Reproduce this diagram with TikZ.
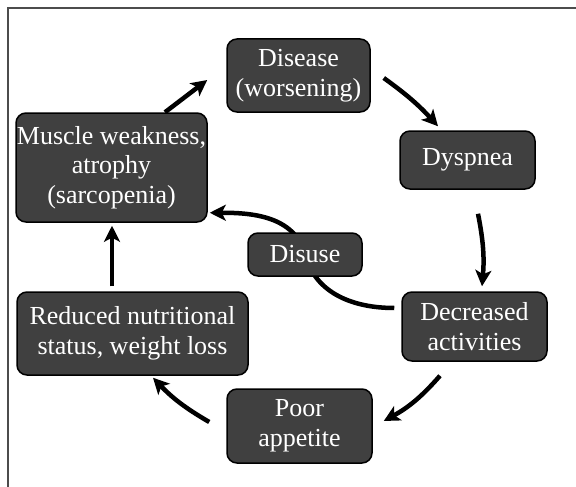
\documentclass[tikz,border=0pt]{standalone}
\usepackage{fontspec}
\setmainfont{Liberation Serif}
\usetikzlibrary{arrows.meta,calc,backgrounds}
\definecolor{boxfill}{HTML}{404040}
\tikzset{
  box/.style={draw=black, line width=1.5pt, fill=boxfill, rounded corners=10pt,
    text=white, align=center, inner sep=0pt,
    font=\fontsize{26}{29.5}\selectfont},
  arr/.style={line width=4.5pt, -{Stealth[length=16pt,width=16pt,inset=4pt]}},
  frameline/.style={line width=2pt, draw=black!70}
}
\begin{document}
\begin{tikzpicture}[x=1pt,y=-1pt]
\useasboundingbox (0,0) rectangle (576,487);
\draw[frameline] (8,487) -- (8,8) -- (576,8);
\node[box, minimum width=143pt, minimum height=73pt] (disease) at (298.5,75.5) {Disease\\(worsening)};
\node[box, minimum width=135pt, minimum height=58pt] (dyspnea) at (467.5,160) {Dyspnea};
\node[box, minimum width=191pt, minimum height=109pt] (muscle) at (111.5,167.5) {Muscle weakness,\\atrophy\\(sarcopenia)};
\node[box, minimum width=114pt, minimum height=43pt] (disuse) at (305,254.5) {Disuse};
\node[box, minimum width=145pt, minimum height=69pt] (decreased) at (474.5,326.5) {Decreased\\activities};
\node[box, minimum width=231pt, minimum height=83pt] (reduced) at (132.5,333.5) {Reduced nutritional\\status, weight loss};
\node[box, minimum width=145pt, minimum height=74pt] (poor) at (299.5,426) {Poor\\appetite};
\begin{pgfonlayer}{background}
\draw[arr] ($(muscle.north)+(53.5,0)$) -- ($(disease.west)+(-19,4.5)$);
\draw[arr] ($(disease.east)+(13,2.5)$) to[bend left=6] ($(dyspnea.north)+(-29.5,-4)$);
\draw[arr] ($(dyspnea.south)+(10.5,24)$) to[bend left=8] ($(decreased.north)+(7.5,-5)$);
\draw[arr] ($(decreased.south)+(-34.5,14)$) to[bend left=10] ($(poor.east)+(11,-5)$);
\draw[arr] ($(poor.west)+(-17,-4)$) to[bend left=8] ($(reduced.south)+(20.5,2)$);
\draw[arr] ($(reduced.north)+(-20.5,-5)$) -- ($(muscle.south)+(0.5,3)$);
\draw[arr] ($(decreased.west)+(-7,-18.5)$) to[out=180,in=-75] (disuse.center)
  to[out=105,in=0] ($(muscle.south east)+(2,-10)$);
\end{pgfonlayer}
\end{tikzpicture}
\end{document}
